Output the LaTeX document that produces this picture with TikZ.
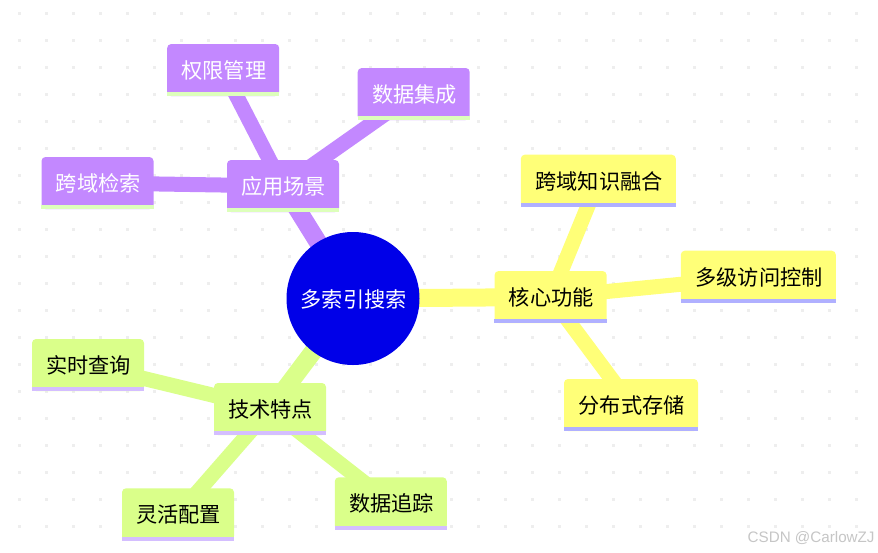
\documentclass[tikz,border=0pt]{standalone}
\usepackage{fontspec}
\setmainfont{Noto Sans CJK SC}
\newfontfamily\wmfont{Liberation Sans}
\usetikzlibrary{backgrounds}
\definecolor{rootc}{HTML}{0000E8}
\definecolor{purp}{HTML}{C388FF}
\definecolor{purpl}{HTML}{DDFFBB}
\definecolor{yel}{HTML}{FFFF78}
\definecolor{yell}{HTML}{B0B0FF}
\definecolor{grn}{HTML}{DAFF8A}
\definecolor{grnl}{HTML}{D4BEFF}
\definecolor{griddot}{HTML}{EEEEEE}
\definecolor{wmgrey}{HTML}{C6C6C6}
\tikzset{
  x=1pt,y=-1pt,
  mmbox/.style={rounded corners=4pt,inner sep=0pt,minimum height=52pt,minimum width=112pt,
    font=\fontsize{21.2}{25}\selectfont,text height=19.5pt,text depth=2.5pt,anchor=center,
    execute at begin node=\hspace*{1.4pt}},
  purpbox/.style={mmbox,fill=purp,text=white},
  yelbox/.style={mmbox,fill=yel,text=black},
  grnbox/.style={mmbox,fill=grn,text=black},
  rootnode/.style={circle,fill=rootc,text=white,minimum size=133pt,inner sep=0pt,
    font=\fontsize{21.2}{25}\selectfont,text height=19.5pt,text depth=2.5pt,
    execute at begin node=\hspace*{1.4pt}},
  rootedge/.style={line width=18pt},
  leafedge/.style={line width=15pt},
}
\begin{document}
\begin{tikzpicture}
\useasboundingbox (0,0) rectangle (878,552);
% nodes
\node[rootnode] (root) at (353,298.5) {多索引搜索};
\node[purpbox] (app) at (283,186) {应用场景};
\node[purpbox] (auth) at (223.2,70) {权限管理};
\node[purpbox] (integ) at (413.7,94) {数据集成};
\node[purpbox] (search) at (97.5,183) {跨域检索};
\node[yelbox] (core) at (550.6,297) {核心功能};
\node[yelbox,minimum width=155pt] (fuse) at (598.3,180.7) {跨域知识融合};
\node[yelbox,minimum width=155pt] (multi) at (758.3,276.7) {多级访问控制};
\node[yelbox,minimum width=134pt] (dist) at (631,405) {分布式存储};
\node[grnbox] (tech) at (270,409) {技术特点};
\node[grnbox] (query) at (88,365) {实时查询};
\node[grnbox] (flex) at (178,514.3) {灵活配置};
\node[grnbox] (trace) at (390.8,503.3) {数据追踪};
% bottom stripes
\foreach \n in {app,auth,integ,search}
  \fill[purpl] (\n.south west) rectangle ([yshift=4pt]\n.south east);
\foreach \n in {core,fuse,multi,dist}
  \fill[yell] (\n.south west) rectangle ([yshift=4pt]\n.south east);
\foreach \n in {tech,query,flex,trace}
  \fill[grnl] (\n.south west) rectangle ([yshift=4pt]\n.south east);
% connectors
\begin{scope}[on background layer]
  \fill[white] (0,0) rectangle (878,552);
  \foreach \i in {0,...,31}{\foreach \j in {0,...,19}{
    \fill[griddot] ({18.2+27*\i},{12.2+27*\j}) rectangle ++(2.3,2.3);
  }}
  \draw[rootedge,purp] (root.center) -- (app.center);
  \draw[leafedge,purp] (app.center) -- (auth.center);
  \draw[leafedge,purp] (app.center) -- (integ.center);
  \draw[leafedge,purp] (app.center) -- (search.center);
  \draw[rootedge,yel] (root.center) -- (core.center);
  \draw[leafedge,yel] (core.center) -- (fuse.center);
  \draw[leafedge,yel] (core.center) -- (multi.center);
  \draw[leafedge,yel] (core.center) -- (dist.center);
  \draw[rootedge,grn] (root.center) -- (tech.center);
  \draw[leafedge,grn] (tech.center) -- (query.center);
  \draw[leafedge,grn] (tech.center) -- (flex.center);
  \draw[leafedge,grn] (tech.center) -- (trace.center);
\end{scope}
\node[anchor=base west,inner sep=0pt,text=wmgrey,font=\wmfont\fontsize{15.2}{17}\selectfont] (wm) at (747.5,542.5) {CSDN @CarlowZJ};
\end{tikzpicture}
\end{document}
